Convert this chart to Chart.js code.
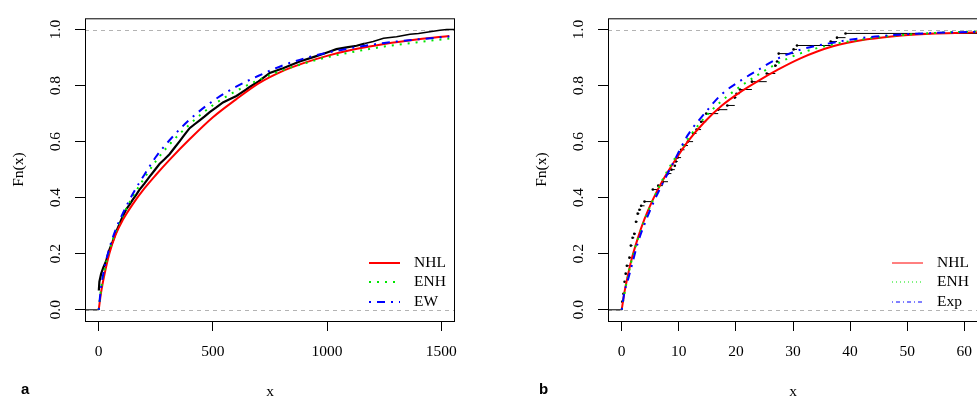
<!DOCTYPE html>
<html>
<head>
<meta charset="utf-8">
<script src="https://cdn.jsdelivr.net/npm/chart.js@4.4.0/dist/chart.umd.min.js"></script>
<style>
    body { margin: 0; width: 977px; height: 399px; overflow: hidden; position: relative; background: #fff; }
    canvas { position: absolute; top: 0; }
    .tag { position: absolute; top: 381px; font: bold 15px "Liberation Sans", Arial, sans-serif; line-height: 15px; color: #000; }
</style>
</head>
<body>
<canvas id="chartA" width="490" height="399" style="left:0"></canvas>
<canvas id="chartB" width="490" height="399" style="left:523px"></canvas>
<div class="tag" style="left:21px">a</div>
<div class="tag" style="left:539px">b</div>
<script>
const yTicks = [0, 0.2, 0.4, 0.6, 0.8, 1.0];
const refLevels = [0, 1];

// panel a
const xTicksA = [0, 500, 1000, 1500];
const namesA = ['NHL', 'ENH', 'EW'];
const gridA = [0, 10, 25, 47, 75, 105, 150, 200, 250, 310, 400, 500, 600, 700, 800, 900, 1000, 1100, 1250, 1400, 1535];
const nhlA = [0, 0.06, 0.125, 0.202, 0.27, 0.32, 0.378, 0.433, 0.481, 0.535, 0.61, 0.687, 0.75, 0.808, 0.85, 0.881, 0.906, 0.926, 0.948, 0.965, 0.977];
const enhA = [0, 0.072, 0.14, 0.212, 0.28, 0.335, 0.405, 0.47, 0.53, 0.59, 0.663, 0.73, 0.78, 0.82, 0.853, 0.879, 0.901, 0.918, 0.939, 0.955, 0.968];
const ewA = [0, 0.078, 0.148, 0.22, 0.288, 0.343, 0.415, 0.482, 0.545, 0.605, 0.68, 0.745, 0.795, 0.835, 0.87, 0.897, 0.917, 0.933, 0.952, 0.965, 0.975];
const ecdfAx = [-100, 0.5, 3, 10.5, 20, 32, 45, 61, 75, 91, 105, 120, 135, 149, 164, 178, 200, 222, 244, 266, 288, 310, 332, 354, 376, 398, 420, 442, 464, 486, 515, 544, 573, 603, 625, 646, 661, 700, 749, 807, 880, 953, 1000, 1041, 1085, 1129, 1165, 1202, 1247, 1304, 1363, 1400, 1436, 1494, 1524, 1600];
const ecdfAy = [0, 0.069, 0.1, 0.128, 0.15, 0.173, 0.21, 0.243, 0.275, 0.306, 0.333, 0.358, 0.375, 0.393, 0.41, 0.428, 0.45, 0.474, 0.497, 0.52, 0.537, 0.555, 0.578, 0.601, 0.625, 0.648, 0.662, 0.676, 0.69, 0.705, 0.722, 0.74, 0.751, 0.763, 0.775, 0.786, 0.795, 0.815, 0.845, 0.862, 0.886, 0.905, 0.918, 0.93, 0.936, 0.942, 0.95, 0.957, 0.969, 0.974, 0.983, 0.986, 0.99, 0.997, 1.0, 1.0];

// panel b
const xTicksB = [0, 10, 20, 30, 40, 50, 60];
const namesB = ['NHL', 'ENH', 'Exp'];
const gridB = [0, 0.5, 1, 1.6, 2.8, 4, 5.5, 7.2, 9.3, 11.6, 14.5, 17.5, 21, 24, 27.2, 31.3, 37, 43, 49, 55, 62.4];
const nhlB = [0, 0.065, 0.115, 0.17, 0.254, 0.324, 0.395, 0.462, 0.532, 0.601, 0.67, 0.728, 0.78, 0.818, 0.855, 0.897, 0.94, 0.965, 0.979, 0.986, 0.99];
const enhB = [0, 0.06, 0.11, 0.165, 0.25, 0.32, 0.392, 0.466, 0.54, 0.61, 0.685, 0.745, 0.8, 0.84, 0.878, 0.915, 0.947, 0.967, 0.98, 0.988, 0.993];
const expB = [0, 0.065, 0.1, 0.145, 0.237, 0.306, 0.38, 0.452, 0.535, 0.624, 0.7, 0.769, 0.82, 0.857, 0.895, 0.928, 0.953, 0.972, 0.982, 0.988, 0.992];
const ecdfBx = [-10, 0.1, 0.3, 0.5, 0.7, 0.9, 1.35, 1.6, 1.9, 2.2, 2.5, 2.8, 3.1, 3.4, 4.0, 5.45, 6.4, 7.2, 8.1, 8.7, 9.3, 9.5, 9.8, 10.4, 11.0, 11.6, 12.5, 13.1, 13.9, 14.8, 16.9, 18.5, 19.8, 20.1, 20.7, 22.8, 25.4, 26.9, 27.2, 27.5, 30.1, 30.7, 36.6, 37.7, 39.2, 75];
const ecdfBy = [0, 0.029, 0.057, 0.1, 0.129, 0.157, 0.186, 0.229, 0.257, 0.271, 0.314, 0.343, 0.357, 0.371, 0.386, 0.429, 0.443, 0.457, 0.486, 0.5, 0.514, 0.529, 0.543, 0.571, 0.586, 0.6, 0.629, 0.643, 0.671, 0.7, 0.714, 0.729, 0.757, 0.771, 0.786, 0.814, 0.843, 0.871, 0.886, 0.914, 0.929, 0.943, 0.957, 0.971, 0.986, 1.0];

const FONT = { family: '"Liberation Serif", "Times New Roman", serif', size: 15.5 };
Chart.defaults.font.family = FONT.family;
Chart.defaults.font.size = FONT.size;
Chart.defaults.color = '#000';

const lineStyles = [
    { color: '#ff0000', dash: [] },
    { color: '#00e600', dash: [2, 6] },
    { color: '#0000ff', dash: [2, 6, 8, 6] }
];

function pts(xs, ys) {
    return xs.map((x, i) => ({ x: x, y: ys[i] }));
}

// horizontal pieces of the ecdf, without the vertical jumps
function steps(xs, ys) {
    const out = [];
    for (let i = 0; i < xs.length - 1; i++) {
        out.push({ x: xs[i], y: ys[i] }, { x: xs[i + 1], y: ys[i] }, { x: xs[i + 1], y: null });
    }
    return out;
}

const boxPlugin = {
    id: 'box',
    afterDraw(chart) {
        const { ctx, chartArea: a } = chart;
        ctx.save();
        ctx.strokeStyle = '#000';
        ctx.lineWidth = 1;
        ctx.strokeRect(a.left + 0.5, a.top + 0.5, a.right - a.left - 1, a.bottom - a.top);
        ctx.restore();
    }
};

const refPlugin = {
    id: 'refLines',
    beforeDatasetsDraw(chart) {
        const { ctx, chartArea: a, scales: { y } } = chart;
        ctx.save();
        ctx.strokeStyle = '#b3b3b3';
        ctx.lineWidth = 1;
        ctx.setLineDash([4, 4]);
        refLevels.forEach(v => {
            const py = Math.round(y.getPixelForValue(v)) + 0.5;
            ctx.beginPath();
            ctx.moveTo(a.left, py);
            ctx.lineTo(a.right, py);
            ctx.stroke();
        });
        ctx.restore();
    }
};

const legendPlugin = {
    id: 'rLegend',
    afterDatasetsDraw(chart, args, opts) {
        const { ctx, chartArea: a } = chart;
        ctx.save();
        opts.labels.forEach((name, i) => {
            const ds = chart.data.datasets.find(d => d.label === name);
            const y = Math.round(a.bottom - 58 + i * 19.4);
            ctx.strokeStyle = ds.borderColor;
            ctx.lineWidth = opts.lineWidth;
            ctx.setLineDash(ds.borderDash.map(v => v * opts.lineWidth / 2));
            ctx.beginPath();
            ctx.moveTo(a.right - 86, y);
            ctx.lineTo(a.right - 55, y);
            ctx.stroke();
            ctx.setLineDash([]);
            ctx.fillStyle = '#000';
            ctx.font = FONT.size + 'px ' + FONT.family;
            ctx.textBaseline = 'middle';
            ctx.textAlign = 'left';
            ctx.fillText(name, a.right - 41, y);
        });
        ctx.restore();
    }
};

function curve(label, xs, ys, style) {
    return {
        label: label,
        data: pts(xs, ys),
        borderColor: style.color,
        borderDash: style.dash,
        borderWidth: 2,
        pointRadius: 0,
        cubicInterpolationMode: 'monotone',
        fill: false
    };
}

function renderPanel(id, p) {
    const datasets = [
        curve(p.names[2], p.grid, p.fits[2], lineStyles[2]),
        curve(p.names[1], p.grid, p.fits[1], lineStyles[1]),
        curve(p.names[0], p.grid, p.fits[0], lineStyles[0])
    ];
    if (p.dense) {
        // left tail at 0, then the dense staircase as one thick line
        datasets.push({
            data: steps(p.ex.slice(0, 2), p.ey.slice(0, 2)),
            borderColor: '#000',
            borderWidth: 1,
            pointRadius: 0
        });
        datasets.push({
            data: pts(p.ex.slice(1), p.ey.slice(1)),
            borderColor: '#000',
            borderWidth: 2.2,
            pointRadius: 0,
            tension: 0,
            // steps get sparse in the upper tail, so the line thins out there
            segment: { borderWidth: c => (c.p0.parsed.x > 1150 ? 1.5 : undefined) }
        });
    } else {
        datasets.push({
            data: steps(p.ex, p.ey),
            borderColor: '#000',
            borderWidth: 1,
            pointRadius: 0,
            spanGaps: false
        });
        datasets.push({
            data: pts(p.ex.slice(1), p.ey.slice(1)),
            showLine: false,
            pointRadius: 1.3,
            pointBackgroundColor: '#000',
            pointBorderWidth: 0
        });
    }

    return new Chart(document.getElementById(id), {
        type: 'line',
        data: { datasets: datasets },
        options: {
            responsive: false,
            animation: false,
            events: [],
            layout: { padding: { top: 10, right: 35, left: 0, bottom: 0 } },
            plugins: {
                legend: { display: false },
                tooltip: { enabled: false },
                rLegend: { labels: p.names, lineWidth: p.legendWidth }
            },
            scales: {
                x: {
                    type: 'linear',
                    min: p.xmin,
                    max: p.xmax,
                    afterBuildTicks: s => { s.ticks = p.xTicks.map(v => ({ value: v })); },
                    afterFit: s => { s.height = 78; },
                    ticks: { padding: 12, maxRotation: 0, autoSkip: false, callback: v => String(v) },
                    grid: { drawOnChartArea: false, tickLength: 10, color: '#000' },
                    border: { display: false },
                    title: { display: true, text: 'x', padding: { top: 0, bottom: -2 } }
                },
                y: {
                    type: 'linear',
                    min: -0.04,
                    max: 1.04,
                    afterBuildTicks: s => { s.ticks = yTicks.map(v => ({ value: v })); },
                    afterFit: s => { s.width = 85; },
                    ticks: { padding: 9, minRotation: 90, maxRotation: 90, crossAlign: 'center', autoSkip: false, callback: v => v.toFixed(1) },
                    grid: { drawOnChartArea: false, tickLength: 10, color: '#000' },
                    border: { display: false },
                    title: { display: true, text: 'Fn(x)', padding: { top: 10, bottom: 0 } }
                }
            }
        },
        plugins: [refPlugin, boxPlugin, legendPlugin]
    });
}

renderPanel('chartA', {
    names: namesA, grid: gridA, fits: [nhlA, enhA, ewA],
    ex: ecdfAx, ey: ecdfAy, dense: true,
    xmin: -60, xmax: 1560, xTicks: xTicksA, legendWidth: 2
});

renderPanel('chartB', {
    names: namesB, grid: gridB, fits: [nhlB, enhB, expB],
    ex: ecdfBx, ey: ecdfBy, dense: false,
    xmin: -2.4, xmax: 62.4, xTicks: xTicksB, legendWidth: 1
});
</script>
</body>
</html>
